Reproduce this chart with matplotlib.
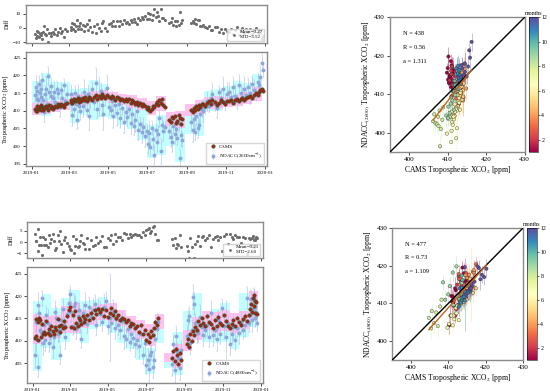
import numpy as np
import matplotlib
matplotlib.use("Agg")
import matplotlib.pyplot as plt
import matplotlib.dates as mdates

plt.rcParams['font.family'] = ['Liberation Serif', 'DejaVu Serif']
plt.rcParams['mathtext.fontset'] = 'stix'

# ---- NDACC 2600 cm-1 vs CAMS (top row), day of year 2019 ----
days_2600 = [6, 7, 8, 9, 10, 12, 13, 14, 15, 17,
             18, 20, 21, 23, 24, 26, 28, 30, 31, 33,
             35, 37, 39, 42, 44, 46, 48, 50, 53, 56,
             61, 62, 63, 65, 66, 68, 69, 71, 72, 74,
             76, 78, 80, 82, 84, 86, 88, 90, 92, 95,
             98, 100, 103, 105, 108, 110, 112, 115, 118, 121,
             124, 126, 128, 131, 133, 136, 138, 141, 144, 147,
             150, 152, 155, 157, 160, 162, 165, 167, 170, 173,
             175, 178, 180, 182, 184, 186, 188, 190, 192, 194,
             196, 198, 200, 202, 204, 206, 208, 215, 218, 220,
             222, 224, 226, 228, 230, 232, 234, 236, 250, 252,
             254, 256, 258, 260, 262, 264, 266, 268, 271, 274,
             277, 280, 283, 287, 290, 294, 297, 300, 303, 306,
             309, 312, 315, 318, 321, 324, 327, 330, 333, 336,
             339, 342, 345, 348, 351, 354, 356, 358, 360, 362]
cams_2600 = [410.5, 410.0, 411.2, 409.8, 410.4, 411.0, 410.6, 410.1, 411.5, 410.8,
             410.3, 411.0, 410.7, 411.3, 410.9, 410.2, 411.6, 410.8, 411.2, 410.5,
             411.0, 411.4, 410.9, 411.8, 411.3, 412.0, 411.5, 411.1, 411.9, 412.2,
             412.5, 413.0, 412.2, 412.8, 413.4, 412.6, 413.1, 412.9, 413.6, 412.4,
             413.2, 412.8, 413.5, 413.0, 413.8, 412.7, 413.3, 414.0, 413.6, 413.1,
             413.9, 414.5, 413.4, 414.2, 413.7, 414.8, 414.1, 413.6, 414.4, 413.9,
             413.5, 414.2, 413.8, 413.1, 414.0, 413.6, 412.9, 413.4, 412.7, 413.2,
             412.6, 413.3, 412.2, 412.9, 412.4, 411.8, 412.5, 411.6, 412.1, 411.4,
             411.9, 411.2, 410.5, 411.0, 410.2, 409.8, 410.6, 411.3, 410.9, 411.8,
             412.4, 411.6, 413.0, 412.2, 413.2, 411.5, 411.0, 407.5, 406.8, 408.2,
             407.9, 408.6, 406.5, 407.2, 408.8, 408.0, 406.2, 407.6, 410.2, 409.6,
             410.8, 410.1, 411.2, 410.5, 411.6, 410.9, 411.8, 412.0, 411.4, 412.3,
             412.6, 411.8, 413.0, 412.4, 411.6, 412.2, 413.1, 412.5, 411.9, 412.8,
             412.6, 413.0, 412.3, 412.9, 413.4, 412.7, 413.2, 413.6, 412.9, 413.5,
             413.8, 414.2, 413.6, 414.5, 414.9, 414.4, 415.3, 415.8, 416.2, 415.6]
ndacc_2600 = [414.5, 416.8, 413.2, 415.6, 412.9, 417.5, 415.0, 413.8, 416.2, 418.6,
              413.0, 409.5, 414.8, 416.0, 411.9, 419.8, 415.3, 414.1, 417.0, 413.6,
              415.2, 412.4, 416.1, 414.9, 411.0, 415.8, 413.5, 417.2, 412.8, 414.6,
              411.8, 414.6, 408.9, 413.2, 410.5, 415.0, 412.0, 407.5, 414.2, 411.3,
              409.8, 413.5, 411.2, 415.4, 412.6, 410.1, 414.8, 408.4, 413.0, 416.2,
              412.5, 417.8, 410.6, 414.0, 415.6, 411.5, 409.2, 413.8, 416.5, 411.0,
              410.2, 412.8, 408.6, 411.5, 409.4, 412.0, 407.8, 410.8, 406.9, 409.6,
              408.2, 410.4, 406.5, 409.0, 405.8, 407.4, 409.8, 404.6, 406.2, 403.9,
              405.5, 402.8, 404.2, 400.5, 403.6, 399.8, 405.0, 402.1, 397.6, 404.4,
              401.2, 403.5, 407.8, 398.6, 406.0, 404.2, 405.5, 404.2, 402.6, 401.0,
              405.8, 403.4, 404.8, 402.2, 406.6, 396.5, 403.0, 401.8, 406.8, 404.5,
              407.6, 403.9, 408.4, 405.2, 406.0, 409.2, 410.5, 409.8, 411.0, 412.6,
              411.4, 413.5, 414.6, 412.0, 410.8, 415.2, 413.6, 416.0, 412.4, 414.8,
              415.4, 413.8, 416.8, 414.2, 412.6, 417.4, 415.0, 413.9, 416.2, 414.5,
              416.8, 415.0, 417.6, 415.8, 414.6, 418.0, 417.2, 419.5, 423.6, 421.4]
err_2600 = [2.0, 3.1, 1.5, 2.6, 1.8, 2.2, 3.4, 1.6, 2.4, 1.9,
            1.4, 2.8, 2.1, 3.6, 1.7, 2.5, 1.9, 2.9, 2.2, 1.6,
            3.2, 1.8, 2.4, 1.5, 2.7, 2.0, 3.0, 1.7, 2.3, 2.6,
            1.9, 2.6, 3.3, 1.7, 2.4, 2.1, 1.6, 2.8, 3.1, 1.8,
            2.5, 1.7, 2.9, 3.4, 2.0, 1.6, 2.6, 3.8, 2.2, 1.9,
            2.3, 4.4, 2.7, 5.6, 2.1, 3.0, 4.8, 2.4, 3.6, 2.2,
            1.8, 2.9, 3.5, 2.2, 3.8, 1.7, 2.6, 2.0, 3.3, 2.4,
            2.6, 1.9, 3.1, 2.3, 2.7, 3.4, 1.8, 2.9, 2.1, 3.0,
            2.4, 3.2, 1.9, 2.8, 3.5, 2.6, 2.0, 3.1, 2.7, 1.8,
            3.0, 2.2, 2.5, 3.6, 2.1, 2.9, 1.7, 2.3, 3.0, 2.6,
            2.0, 2.7, 3.2, 1.9, 2.5, 2.8, 3.1, 2.2, 2.6, 3.3,
            2.9, 2.1, 2.4, 3.0, 1.8, 2.6, 2.3, 3.1, 2.0, 2.7,
            1.7, 2.4, 3.3, 2.0, 2.8, 1.9, 2.5, 3.6, 2.2, 2.9,
            2.3, 1.8, 2.6, 3.0, 2.1, 2.7, 1.9, 2.4, 3.2, 2.0,
            2.5, 3.1, 2.0, 2.8, 1.9, 2.6, 2.2, 3.0, 2.4, 1.8]

# ---- NDACC 4800 cm-1 vs CAMS (bottom row) ----
days_4800 = [4, 5, 6, 8, 9, 10, 12, 13, 15, 16,
             18, 20, 22, 24, 26, 28, 30, 32, 34, 36,
             38, 40, 42, 44, 46, 48, 50, 52, 55, 58,
             60, 62, 64, 66, 68, 70, 72, 74, 76, 78,
             80, 82, 84, 87, 90, 93, 96, 99, 102, 105,
             108, 111, 114, 117, 120, 123, 126, 128, 131, 134,
             137, 140, 143, 146, 149, 152, 155, 158, 161, 164,
             167, 170, 173, 176, 179, 182, 184, 186, 188, 190,
             192, 194, 196, 198, 200, 223, 225, 227, 229, 231,
             233, 235, 237, 246, 248, 250, 252, 254, 256, 258,
             260, 262, 264, 267, 270, 273, 276, 279, 282, 285,
             288, 291, 294, 297, 300, 303, 306, 309, 312, 315,
             318, 321, 324, 327, 330, 333, 336, 339, 342, 345,
             347, 349, 351, 352, 353, 354, 355, 356, 357, 358]
cams_4800 = [410.6, 414.8, 411.0, 414.2, 410.2, 415.0, 414.6, 410.8, 413.8, 411.5,
             412.0, 411.4, 414.5, 411.8, 412.6, 411.2, 413.4, 412.2, 411.6, 413.0,
             412.4, 414.8, 413.2, 411.9, 413.6, 412.8, 414.4, 413.0, 415.5, 416.8,
             417.5, 413.0, 415.8, 412.8, 416.6, 414.0, 413.4, 415.2, 414.6, 413.8,
             415.6, 414.2, 414.8, 415.8, 414.6, 416.2, 415.0, 416.8, 416.0, 417.2,
             416.4, 417.0, 415.6, 416.8, 415.4, 416.2, 417.4, 415.8, 416.6, 415.2,
             415.8, 414.6, 415.2, 414.9, 414.2, 414.6, 413.4, 414.0, 413.8, 412.8,
             413.2, 412.0, 413.6, 411.4, 412.4, 410.2, 411.6, 409.8, 410.8, 412.2,
             411.2, 412.8, 414.2, 413.6, 415.0, 406.2, 407.8, 405.4, 408.2, 406.8,
             404.8, 407.2, 405.6, 409.2, 410.4, 408.6, 411.4, 410.0, 412.2, 411.2,
             413.0, 412.4, 414.4, 413.6, 415.2, 414.0, 413.4, 415.6, 414.2, 413.8,
             412.8, 414.6, 413.2, 415.4, 414.0, 413.6, 415.8, 414.4, 413.2, 412.8,
             413.8, 414.6, 413.4, 415.2, 414.2, 413.6, 414.8, 415.6, 414.4, 415.8,
             417.0, 418.2, 416.4, 419.6, 417.8, 420.2, 416.2, 419.0, 418.6, 416.0]
ndacc_4800 = [406.8, 414.2, 410.5, 418.0, 404.2, 416.2, 412.4, 412.0, 419.5, 409.4,
              413.5, 410.2, 415.8, 414.0, 409.6, 411.8, 412.2, 408.5, 410.9, 416.4,
              415.0, 411.6, 412.5, 406.8, 414.6, 417.2, 413.6, 410.8, 416.0, 418.5,
              420.4, 416.5, 413.2, 417.8, 418.4, 412.6, 415.6, 416.8, 414.2, 410.4,
              416.2, 415.0, 418.0, 413.8, 417.5, 415.4, 416.8, 418.2, 413.6, 417.4,
              416.0, 414.2, 417.6, 418.8, 413.4, 415.2, 414.0, 416.5, 412.8, 414.8,
              413.6, 412.4, 414.4, 411.0, 410.4, 412.6, 409.8, 411.6, 410.6, 409.2,
              410.2, 408.8, 411.4, 406.8, 409.4, 404.6, 405.8, 403.6, 406.8, 407.4,
              404.2, 405.6, 410.4, 412.6, 414.2, 404.8, 409.2, 403.4, 411.0, 407.6,
              406.2, 404.0, 408.0, 411.0, 414.6, 415.6, 409.6, 412.4, 419.8, 418.2,
              414.0, 412.0, 411.8, 415.4, 413.0, 411.2, 412.4, 413.6, 410.8, 416.2,
              411.2, 412.4, 410.4, 414.6, 411.6, 417.4, 413.2, 410.8, 414.0, 409.2,
              411.6, 413.0, 410.2, 412.8, 411.8, 414.2, 412.4, 413.6, 419.6, 414.0,
              415.8, 419.4, 414.6, 417.0, 419.8, 419.2, 415.2, 417.6, 416.4, 414.0]
err_4800 = [2.8, 2.1, 3.0, 2.6, 2.4, 1.9, 2.2, 3.2, 1.7, 2.5,
            1.8, 2.6, 2.0, 3.1, 2.2, 1.7, 2.9, 2.3, 1.9, 2.4,
            2.5, 1.9, 2.7, 2.0, 3.0, 2.2, 1.8, 2.6, 2.1, 2.9,
            1.8, 2.4, 2.0, 2.7, 1.6, 2.3, 2.9, 1.9, 2.5, 2.1,
            2.2, 1.8, 2.6, 2.0, 2.4, 1.7, 2.8, 2.1, 2.3, 1.9,
            2.6, 2.0, 2.9, 2.2, 1.8, 9.8, 2.1, 2.7, 2.3, 1.9,
            2.4, 2.1, 2.2, 2.8, 1.9, 2.5, 2.0, 2.6, 2.2, 2.9,
            2.1, 2.7, 2.3, 1.9, 2.6, 2.0, 2.4, 2.8, 2.2, 1.7,
            2.5, 2.0, 2.7, 2.3, 1.8, 2.6, 2.1, 2.9, 2.4, 2.0,
            2.2, 2.8, 2.0, 2.5, 2.3, 1.9, 2.6, 2.1, 2.7, 2.4,
            1.9, 2.4, 2.1, 2.6, 2.0, 2.3, 1.8, 2.5, 2.2, 2.7,
            2.3, 1.9, 2.6, 2.1, 2.4, 2.0, 2.7, 8.0, 1.8, 2.5,
            2.0, 2.5, 2.2, 1.9, 2.6, 2.3, 2.1, 2.8, 2.4, 2.0,
            2.4, 2.0, 2.6, 2.2, 1.8, 2.5, 2.1, 2.3, 2.7, 1.9]

start = np.datetime64('2019-01-01')


def to_dates(days):
    return start + np.array(days).astype('timedelta64[D]')


def months(days):
    d = to_dates(days)
    return (d.astype('datetime64[M]') - np.datetime64('2019-01')).astype(int) + 1


def frame(ax):
    for s in ax.spines.values():
        s.set_color('#8a8a8a')
        s.set_linewidth(1.0)
    ax.tick_params(labelsize=3.6, length=2, width=0.5, pad=1.5)


def draw_series(ax_d, ax_m, days, cams, ndacc, err, label, stats, ylim_m, ylim_d, dticks):
    days = np.array(days)
    cams = np.array(cams)
    ndacc = np.array(ndacc)
    err = np.array(err)
    d = to_dates(days)
    diff = cams - ndacc

    # shaded ranges, 15-day blocks
    edges = np.arange(0, 375, 15)
    for lo, hi in zip(edges[:-1], edges[1:]):
        m = (days >= lo) & (days < hi)
        if m.any():
            xs = to_dates([lo, hi])
            ax_m.fill_between(xs, ndacc[m].min() - 1, ndacc[m].max() + 1,
                              color='#c4ffff', lw=0, zorder=0)
    for lo, hi in zip(edges[:-1], edges[1:]):
        m = (days >= lo) & (days < hi)
        if m.any():
            xs = to_dates([lo, hi])
            ax_m.fill_between(xs, cams[m].min() - 1, cams[m].max() + 1,
                              color='#ffc2ef', lw=0, zorder=0.5)

    h_n = ax_m.errorbar(d, ndacc, yerr=err, fmt='o', ms=1.8, color='#8ea6dc',
                        ecolor='#a9bce4', elinewidth=0.4, capsize=0.7, capthick=0.3,
                        zorder=2, label=label)
    h_c, = ax_m.plot(d, cams, 'o', ms=2.4, mfc='#c4121c', mec='#2d5a1a', mew=0.5,
                     zorder=3, label='CAMS')
    ax_m.legend([h_c, h_n], ['CAMS', label], loc='lower right', fontsize=3.6,
                handletextpad=0.3, borderpad=0.4, labelspacing=0.5, fancybox=False)
    ax_m.set_ylim(*ylim_m)
    ax_m.set_ylabel('Tropospheric XCO$_2$ [ppm]', fontsize=4.5, labelpad=2)

    ax_d.scatter(d, diff, s=5, color='#6e6e6e', lw=0, label=stats)
    ax_d.legend(loc='lower right', fontsize=3.6, handletextpad=0.2, borderpad=0.3,
                markerscale=0.9, fancybox=False)
    ax_d.set_ylim(*ylim_d)
    ax_d.set_yticks(dticks)
    ax_d.set_ylabel('Diff', fontsize=4.5, labelpad=2)

    for ax in (ax_d, ax_m):
        ax.set_xlim(to_dates([-9, 368]))
        ax.xaxis.set_major_locator(mdates.MonthLocator(bymonth=[1, 3, 5, 7, 9, 11]))
        ax.xaxis.set_major_formatter(mdates.DateFormatter('%Y-%m'))
        frame(ax)
    ax_d.tick_params(labelbottom=False)


def draw_scatter(ax, cax, days, cams, ndacc, err, ylabel, stats, slope):
    cams = np.array(cams)
    ndacc = np.array(ndacc)
    err = np.array(err)
    mon = months(days)
    cmap = plt.get_cmap('Spectral')
    norm = plt.Normalize(1, 12)
    ax.vlines(cams, ndacc - err, ndacc + err, colors=cmap(norm(mon)), lw=0.5,
              alpha=0.5, zorder=1)
    sc = ax.scatter(cams, ndacc, c=mon, cmap=cmap, norm=norm, s=6,
                    edgecolors='#222222', linewidths=0.25, zorder=3)
    ax.plot([395, 430], [395, 430], color='k', lw=1.0, zorder=4)
    xs = np.array([cams.min(), cams.max()])
    ys = ndacc.mean() + slope * (xs - cams.mean())
    ax.plot(xs, ys, color='#c0661c', lw=1.0, zorder=4)
    for i, t in enumerate(stats):
        ax.text(398.5, 425.7 - i * 3.6, t, fontsize=4.6, va='center')
    ax.set_xlim(395, 430)
    ax.set_ylim(395, 430)
    ax.set_xticks([400, 410, 420, 430])
    ax.set_yticks([400, 410, 420, 430])
    ax.tick_params(labelsize=5.2, length=2, width=0.5, pad=1.5)
    for s in ax.spines.values():
        s.set_color('#8a8a8a')
        s.set_linewidth(1.0)
    ax.set_xlabel('CAMS Tropospheric XCO$_2$ [ppm]', fontsize=5.5, labelpad=1.5)
    ax.set_ylabel(ylabel, fontsize=5.5, labelpad=1.5)
    cb = plt.colorbar(sc, cax=cax, ticks=[2, 4, 6, 8, 10, 12])
    cb.ax.tick_params(labelsize=4.2, length=1.5, width=0.4, pad=1)
    cb.outline.set_linewidth(0.4)
    cb.ax.set_title('months', fontsize=4.2, pad=1.5)


fig = plt.figure(figsize=(5.5, 3.91), dpi=100)

ax1d = fig.add_axes([0.047, 0.890, 0.438, 0.097])
ax1m = fig.add_axes([0.047, 0.575, 0.438, 0.292])
ax2d = fig.add_axes([0.049, 0.340, 0.429, 0.092])
ax2m = fig.add_axes([0.049, 0.020, 0.429, 0.297])

draw_series(ax1d, ax1m, days_2600, cams_2600, ndacc_2600, err_2600,
            'NDACC(2600cm$^{-1}$)', 'Mean=0.27\nSTD=3.52',
            (394.3, 426.6), (-10.5, 16), [-10, 0, 10])
draw_series(ax2d, ax2m, days_4800, cams_4800, ndacc_4800, err_4800,
            'NDACC(4800cm$^{-1}$)', 'Mean=0.21\nSTD=2.60',
            (400.5, 426.5), (-7.2, 9), [-5, 0, 5])

sa1 = fig.add_axes([0.709, 0.611, 0.245, 0.345])
cb1 = fig.add_axes([0.962, 0.611, 0.016, 0.345])
sa2 = fig.add_axes([0.713, 0.079, 0.238, 0.338])
cb2 = fig.add_axes([0.958, 0.079, 0.018, 0.338])

draw_scatter(sa1, cb1, days_2600, cams_2600, ndacc_2600, err_2600,
             'NDACC$_{(2600)}$ Tropospheric XCO$_2$ [ppm]',
             ['N = 438', 'R = 0.56', 'a = 1.311'], 1.311)
draw_scatter(sa2, cb2, days_4800, cams_4800, ndacc_4800, err_4800,
             'NDACC$_{(4800)}$ Tropospheric XCO$_2$ [ppm]',
             ['N = 477', 'R = 0.73', 'a = 1.109'], 1.109)

fig.savefig('out.png', dpi=100)
